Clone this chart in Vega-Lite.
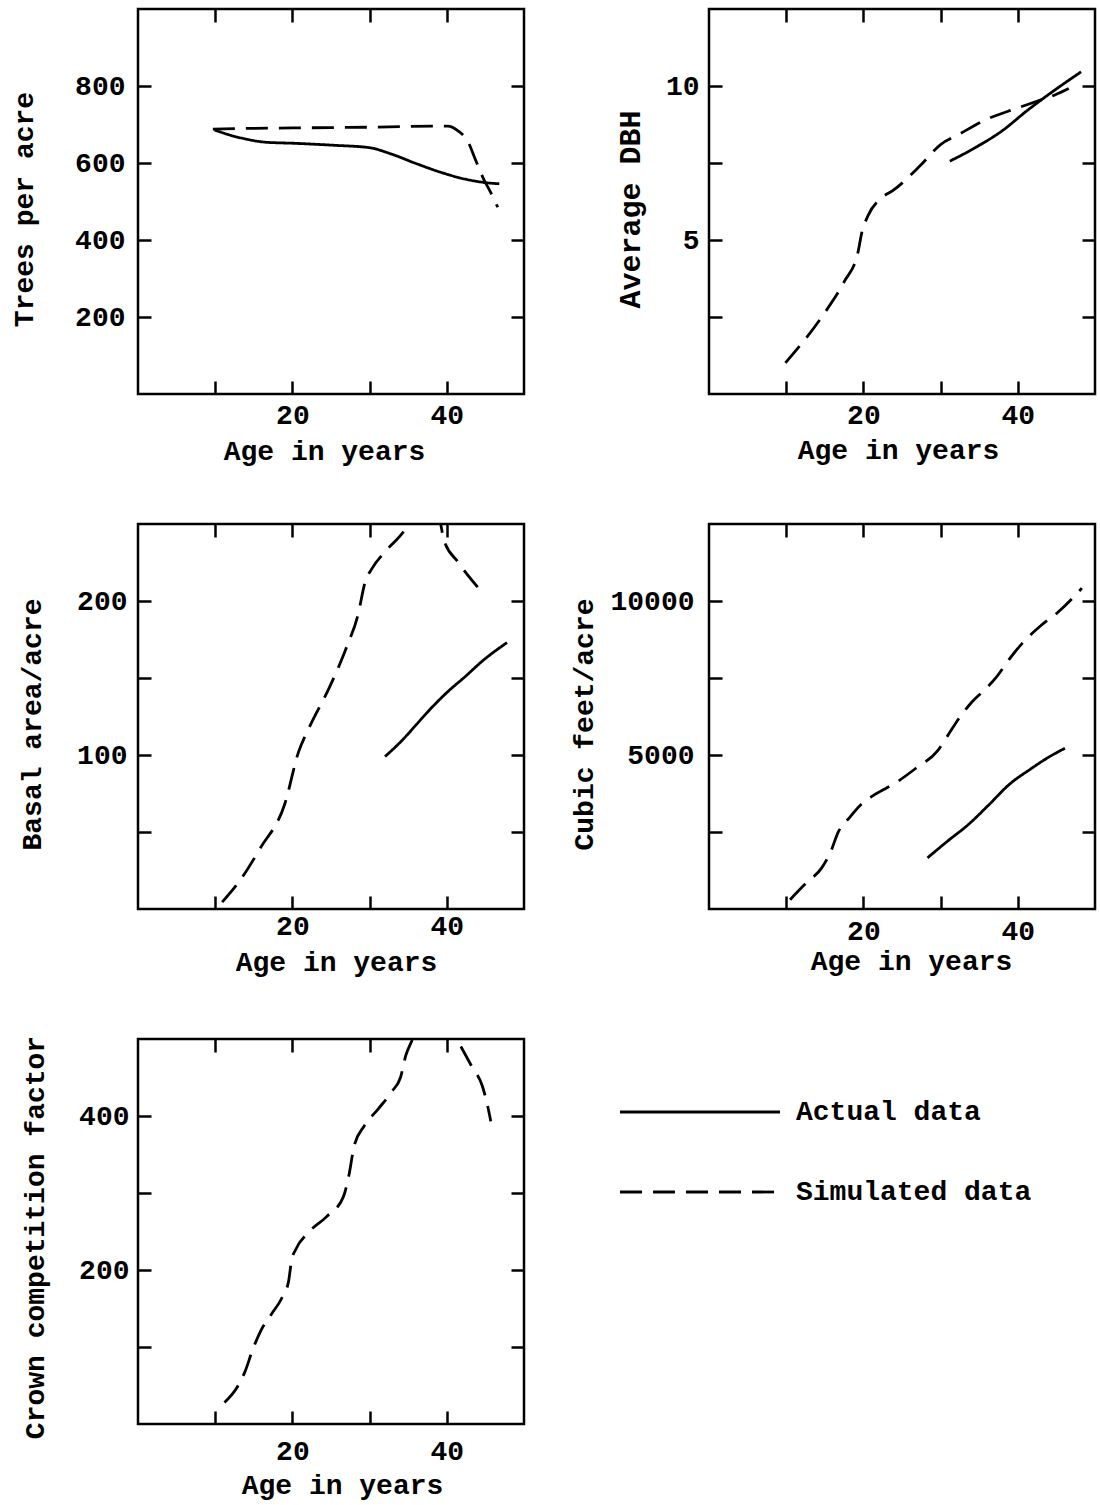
{
  "$schema": "https://vega.github.io/schema/vega-lite/v6.json",
  "background": "white",
  "padding": {"left": 8, "top": 6, "right": 2, "bottom": 5},
  "bounds": "flush",
  "columns": 2,
  "spacing": {"row": 130, "column": 185},
  "datasets": {
    "trees": [
      {"series": "Actual data", "age": 9.9, "value": 686},
      {"series": "Actual data", "age": 12, "value": 672},
      {"series": "Actual data", "age": 13.8, "value": 663},
      {"series": "Actual data", "age": 16.5, "value": 654},
      {"series": "Actual data", "age": 20.5, "value": 651},
      {"series": "Actual data", "age": 25.4, "value": 646},
      {"series": "Actual data", "age": 29.9, "value": 640},
      {"series": "Actual data", "age": 33, "value": 622},
      {"series": "Actual data", "age": 36.1, "value": 598},
      {"series": "Actual data", "age": 39.2, "value": 576},
      {"series": "Actual data", "age": 42.4, "value": 558},
      {"series": "Actual data", "age": 45, "value": 549},
      {"series": "Actual data", "age": 46.8, "value": 546},
      {"series": "Simulated data", "age": 9.7, "value": 688},
      {"series": "Simulated data", "age": 15, "value": 690},
      {"series": "Simulated data", "age": 20, "value": 691},
      {"series": "Simulated data", "age": 25, "value": 692},
      {"series": "Simulated data", "age": 30, "value": 693},
      {"series": "Simulated data", "age": 35, "value": 695},
      {"series": "Simulated data", "age": 40.1, "value": 696},
      {"series": "Simulated data", "age": 41.5, "value": 683},
      {"series": "Simulated data", "age": 42.8, "value": 653},
      {"series": "Simulated data", "age": 43.7, "value": 609},
      {"series": "Simulated data", "age": 44.8, "value": 557},
      {"series": "Simulated data", "age": 45.7, "value": 523},
      {"series": "Simulated data", "age": 46.6, "value": 485}
    ],
    "dbh": [
      {"series": "Actual data", "age": 31.2, "value": 7.56},
      {"series": "Actual data", "age": 34.5, "value": 8.0},
      {"series": "Actual data", "age": 38, "value": 8.55},
      {"series": "Actual data", "age": 41.2, "value": 9.2},
      {"series": "Actual data", "age": 44.8, "value": 9.87},
      {"series": "Actual data", "age": 48.2, "value": 10.46},
      {"series": "Simulated data", "age": 9.9, "value": 1.01},
      {"series": "Simulated data", "age": 14.8, "value": 2.57},
      {"series": "Simulated data", "age": 17.5, "value": 3.64},
      {"series": "Simulated data", "age": 19.3, "value": 4.6},
      {"series": "Simulated data", "age": 19.8, "value": 5.25},
      {"series": "Simulated data", "age": 20.6, "value": 5.79},
      {"series": "Simulated data", "age": 22.4, "value": 6.38},
      {"series": "Simulated data", "age": 23.8, "value": 6.6},
      {"series": "Simulated data", "age": 27.3, "value": 7.4},
      {"series": "Simulated data", "age": 30, "value": 8.1},
      {"series": "Simulated data", "age": 32.3, "value": 8.42},
      {"series": "Simulated data", "age": 35.8, "value": 8.9},
      {"series": "Simulated data", "age": 39.9, "value": 9.28},
      {"series": "Simulated data", "age": 43, "value": 9.55},
      {"series": "Simulated data", "age": 44.8, "value": 9.71},
      {"series": "Simulated data", "age": 46.6, "value": 9.92}
    ],
    "basal": [
      {"series": "Actual data", "age": 32, "value": 99},
      {"series": "Actual data", "age": 34.3, "value": 110},
      {"series": "Actual data", "age": 36.1, "value": 120},
      {"series": "Actual data", "age": 37.9, "value": 130},
      {"series": "Actual data", "age": 40.1, "value": 141},
      {"series": "Actual data", "age": 42.4, "value": 151},
      {"series": "Actual data", "age": 44.6, "value": 161},
      {"series": "Actual data", "age": 47.8, "value": 173},
      {"series": "Simulated data", "age": 10.9, "value": 4.5},
      {"series": "Simulated data", "age": 13.2, "value": 18.5},
      {"series": "Simulated data", "age": 15.9, "value": 40},
      {"series": "Simulated data", "age": 19, "value": 68},
      {"series": "Simulated data", "age": 20.8, "value": 102},
      {"series": "Simulated data", "age": 22.1, "value": 117},
      {"series": "Simulated data", "age": 24.9, "value": 145},
      {"series": "Simulated data", "age": 27.1, "value": 171},
      {"series": "Simulated data", "age": 28.5, "value": 191},
      {"series": "Simulated data", "age": 29.4, "value": 212},
      {"series": "Simulated data", "age": 30.3, "value": 221},
      {"series": "Simulated data", "age": 32, "value": 232},
      {"series": "Simulated data", "age": 33.9, "value": 242},
      {"series": "Simulated data", "age": 35.2, "value": 250},
      {"series": "Simulated data", "age": 36.6, "value": 258},
      {"series": "Simulated data", "age": 38.3, "value": 260},
      {"series": "Simulated data", "age": 39.2, "value": 250},
      {"series": "Simulated data", "age": 39.6, "value": 240},
      {"series": "Simulated data", "age": 41.5, "value": 225},
      {"series": "Simulated data", "age": 44, "value": 209}
    ],
    "cubic": [
      {"series": "Actual data", "age": 28.3, "value": 1660},
      {"series": "Actual data", "age": 30.9, "value": 2203},
      {"series": "Actual data", "age": 33.6, "value": 2744},
      {"series": "Actual data", "age": 36.3, "value": 3395},
      {"series": "Actual data", "age": 38.9, "value": 4046},
      {"series": "Actual data", "age": 41.6, "value": 4535},
      {"series": "Actual data", "age": 43.9, "value": 4915},
      {"series": "Actual data", "age": 46.1, "value": 5218},
      {"series": "Simulated data", "age": 10.5, "value": 303},
      {"series": "Simulated data", "age": 12.6, "value": 846},
      {"series": "Simulated data", "age": 14.6, "value": 1335},
      {"series": "Simulated data", "age": 15.7, "value": 1823},
      {"series": "Simulated data", "age": 16.8, "value": 2529},
      {"series": "Simulated data", "age": 18, "value": 2908},
      {"series": "Simulated data", "age": 19.7, "value": 3395},
      {"series": "Simulated data", "age": 21.5, "value": 3720},
      {"series": "Simulated data", "age": 24.2, "value": 4100},
      {"series": "Simulated data", "age": 26.9, "value": 4590},
      {"series": "Simulated data", "age": 29.6, "value": 5133},
      {"series": "Simulated data", "age": 30.9, "value": 5621},
      {"series": "Simulated data", "age": 32.3, "value": 6162},
      {"series": "Simulated data", "age": 34, "value": 6706},
      {"series": "Simulated data", "age": 35.8, "value": 7139},
      {"series": "Simulated data", "age": 37.2, "value": 7520},
      {"series": "Simulated data", "age": 38.9, "value": 8115},
      {"series": "Simulated data", "age": 40.7, "value": 8659},
      {"series": "Simulated data", "age": 43, "value": 9203},
      {"series": "Simulated data", "age": 45.2, "value": 9635},
      {"series": "Simulated data", "age": 47, "value": 10068},
      {"series": "Simulated data", "age": 48.3, "value": 10417}
    ],
    "ccf": [
      {"series": "Simulated data", "age": 11.2, "value": 28},
      {"series": "Simulated data", "age": 12.8, "value": 47},
      {"series": "Simulated data", "age": 13.9, "value": 69},
      {"series": "Simulated data", "age": 14.8, "value": 95},
      {"series": "Simulated data", "age": 15.9, "value": 121},
      {"series": "Simulated data", "age": 17.3, "value": 143},
      {"series": "Simulated data", "age": 18.6, "value": 163},
      {"series": "Simulated data", "age": 19.5, "value": 185},
      {"series": "Simulated data", "age": 19.9, "value": 213},
      {"series": "Simulated data", "age": 20.4, "value": 226},
      {"series": "Simulated data", "age": 22.2, "value": 250},
      {"series": "Simulated data", "age": 24.4, "value": 269},
      {"series": "Simulated data", "age": 26.6, "value": 295},
      {"series": "Simulated data", "age": 27.3, "value": 322},
      {"series": "Simulated data", "age": 28, "value": 361},
      {"series": "Simulated data", "age": 29.3, "value": 387},
      {"series": "Simulated data", "age": 31.1, "value": 409},
      {"series": "Simulated data", "age": 32.9, "value": 432},
      {"series": "Simulated data", "age": 34, "value": 450},
      {"series": "Simulated data", "age": 34.7, "value": 479},
      {"series": "Simulated data", "age": 35.4, "value": 496},
      {"series": "Simulated data", "age": 36.6, "value": 520},
      {"series": "Simulated data", "age": 38.6, "value": 530},
      {"series": "Simulated data", "age": 40.5, "value": 515},
      {"series": "Simulated data", "age": 41.4, "value": 498},
      {"series": "Simulated data", "age": 43.2, "value": 465},
      {"series": "Simulated data", "age": 44.6, "value": 439},
      {"series": "Simulated data", "age": 45.2, "value": 417},
      {"series": "Simulated data", "age": 45.7, "value": 393}
    ]
  },
  "config": {
    "view": {"stroke": "black", "strokeWidth": 2.5},
    "axis": {
      "domain": false, "grid": false, "ticks": true, "tickSize": -13, "tickWidth": 2.5, "tickColor": "black",
      "labelFont": "Liberation Mono", "labelFontSize": 28, "labelFontWeight": "bold", "labelColor": "black",
      "titleFont": "Liberation Mono", "titleFontSize": 28, "titleFontWeight": "bold", "titleColor": "black",
      "labelFlush": false, "labelOverlap": false
    },
    "line": {"color": "black", "strokeWidth": 2.8, "interpolate": "monotone"}
  },
  "concat": [
    {
      "width": 386, "height": 385,
      "data": {"name": "trees"},
      "layer": [
        {
          "transform": [{"filter": "datum.series === 'Simulated data'"}],
          "mark": {"type": "line", "clip": true},
          "encoding": {
            "x": {"field": "age", "type": "quantitative", "scale": {"domain": [0, 50], "nice": false, "zero": false},
              "axis": {"orient": "bottom", "values": [10, 20, 30, 40], "labelExpr": "datum.value % 20 === 0 ? datum.label : ''", "labelBaseline": "alphabetic", "labelPadding": 42, "title": "Age in years", "titleX": 186, "titleY": 65, "titleBaseline": "alphabetic"}},
            "y": {"field": "value", "type": "quantitative", "scale": {"domain": [0, 1000], "nice": false},
              "axis": {"orient": "left", "values": [200, 400, 600, 800], "labelPadding": 26, "title": "Trees per acre", "titleX": -106, "titleY": 200, "titleBaseline": "alphabetic"}},
            "strokeDash": {"field": "series", "type": "nominal", "scale": {"domain": ["Actual data", "Simulated data"], "range": [[1, 0], [22, 11]]},
              "legend": {"title": null, "orient": "none", "legendX": 548, "legendY": 1089, "direction": "vertical", "symbolType": "M-10,0H10", "symbolSize": 256, "symbolStrokeWidth": 2.8, "symbolStrokeColor": "black", "labelFont": "Liberation Mono", "labelFontSize": 28, "labelFontWeight": "bold", "labelColor": "black", "labelOffset": 82, "rowPadding": 52, "padding": 0, "labelLimit": 400}}
          }
        },
        {
          "transform": [{"filter": "datum.series === 'Actual data'"}],
          "mark": {"type": "line", "clip": true},
          "encoding": {
            "x": {"field": "age", "type": "quantitative", "scale": {"domain": [0, 50], "nice": false, "zero": false},
              "axis": {"orient": "top", "values": [10, 20, 30, 40], "labels": false, "title": null}},
            "y": {"field": "value", "type": "quantitative", "scale": {"domain": [0, 1000], "nice": false},
              "axis": {"orient": "right", "values": [200, 400, 600, 800], "labels": false, "title": null}},
            "strokeDash": {"field": "series", "type": "nominal", "scale": {"domain": ["Actual data", "Simulated data"], "range": [[1, 0], [22, 11]]}}
          }
        }
      ],
      "resolve": {"axis": {"x": "independent", "y": "independent"}}
    },
    {
      "width": 386, "height": 385,
      "data": {"name": "dbh"},
      "layer": [
        {
          "transform": [{"filter": "datum.series === 'Simulated data'"}],
          "mark": {"type": "line", "clip": true},
          "encoding": {
            "x": {"field": "age", "type": "quantitative", "scale": {"domain": [0, 50], "nice": false, "zero": false},
              "axis": {"orient": "bottom", "values": [10, 20, 30, 40], "labelExpr": "datum.value % 20 === 0 ? datum.label : ''", "labelBaseline": "alphabetic", "labelPadding": 42, "title": "Age in years", "titleX": 189, "titleY": 64, "titleBaseline": "alphabetic"}},
            "y": {"field": "value", "type": "quantitative", "scale": {"domain": [0, 12.5], "nice": false},
              "axis": {"orient": "left", "values": [2.5, 5, 7.5, 10], "labelExpr": "datum.value % 5 === 0 ? datum.label : ''", "labelPadding": 23, "title": "Average DBH", "titleFontSize": 30, "titleX": -70, "titleY": 200, "titleBaseline": "alphabetic"}},
            "strokeDash": {"field": "series", "type": "nominal", "scale": {"domain": ["Actual data", "Simulated data"], "range": [[1, 0], [22, 11]]}}
          }
        },
        {
          "transform": [{"filter": "datum.series === 'Actual data'"}],
          "mark": {"type": "line", "clip": true},
          "encoding": {
            "x": {"field": "age", "type": "quantitative", "scale": {"domain": [0, 50], "nice": false, "zero": false},
              "axis": {"orient": "top", "values": [10, 20, 30, 40], "labels": false, "title": null}},
            "y": {"field": "value", "type": "quantitative", "scale": {"domain": [0, 12.5], "nice": false},
              "axis": {"orient": "right", "values": [2.5, 5, 7.5, 10], "labels": false, "title": null}},
            "strokeDash": {"field": "series", "type": "nominal", "scale": {"domain": ["Actual data", "Simulated data"], "range": [[1, 0], [22, 11]]}}
          }
        }
      ],
      "resolve": {"axis": {"x": "independent", "y": "independent"}}
    },
    {
      "width": 386, "height": 385,
      "data": {"name": "basal"},
      "layer": [
        {
          "transform": [{"filter": "datum.series === 'Simulated data'"}],
          "mark": {"type": "line", "clip": true},
          "encoding": {
            "x": {"field": "age", "type": "quantitative", "scale": {"domain": [0, 50], "nice": false, "zero": false},
              "axis": {"orient": "bottom", "values": [10, 20, 30, 40], "labelExpr": "datum.value % 20 === 0 ? datum.label : ''", "labelBaseline": "alphabetic", "labelPadding": 38, "title": "Age in years", "titleX": 198, "titleY": 61, "titleBaseline": "alphabetic"}},
            "y": {"field": "value", "type": "quantitative", "scale": {"domain": [0, 250], "nice": false},
              "axis": {"orient": "left", "values": [50, 100, 150, 200], "labelExpr": "datum.value % 100 === 0 ? datum.label : ''", "labelPadding": 24, "title": "Basal area/acre", "titleX": -98, "titleY": 200, "titleBaseline": "alphabetic"}},
            "strokeDash": {"field": "series", "type": "nominal", "scale": {"domain": ["Actual data", "Simulated data"], "range": [[1, 0], [22, 11]]}}
          }
        },
        {
          "transform": [{"filter": "datum.series === 'Actual data'"}],
          "mark": {"type": "line", "clip": true},
          "encoding": {
            "x": {"field": "age", "type": "quantitative", "scale": {"domain": [0, 50], "nice": false, "zero": false},
              "axis": {"orient": "top", "values": [10, 20, 30, 40], "labels": false, "title": null}},
            "y": {"field": "value", "type": "quantitative", "scale": {"domain": [0, 250], "nice": false},
              "axis": {"orient": "right", "values": [50, 100, 150, 200], "labels": false, "title": null}},
            "strokeDash": {"field": "series", "type": "nominal", "scale": {"domain": ["Actual data", "Simulated data"], "range": [[1, 0], [22, 11]]}}
          }
        }
      ],
      "resolve": {"axis": {"x": "independent", "y": "independent"}}
    },
    {
      "width": 386, "height": 385,
      "data": {"name": "cubic"},
      "layer": [
        {
          "transform": [{"filter": "datum.series === 'Simulated data'"}],
          "mark": {"type": "line", "clip": true},
          "encoding": {
            "x": {"field": "age", "type": "quantitative", "scale": {"domain": [0, 50], "nice": false, "zero": false},
              "axis": {"orient": "bottom", "values": [10, 20, 30, 40], "labelExpr": "datum.value % 20 === 0 ? datum.label : ''", "labelBaseline": "alphabetic", "labelPadding": 43, "title": "Age in years", "titleX": 202, "titleY": 60, "titleBaseline": "alphabetic"}},
            "y": {"field": "value", "type": "quantitative", "scale": {"domain": [0, 12500], "nice": false},
              "axis": {"orient": "left", "values": [2500, 5000, 7500, 10000], "format": "d", "labelExpr": "datum.value % 5000 === 0 ? datum.label : ''", "labelPadding": 28, "title": "Cubic feet/acre", "titleX": -117, "titleY": 200, "titleBaseline": "alphabetic"}},
            "strokeDash": {"field": "series", "type": "nominal", "scale": {"domain": ["Actual data", "Simulated data"], "range": [[1, 0], [22, 11]]}}
          }
        },
        {
          "transform": [{"filter": "datum.series === 'Actual data'"}],
          "mark": {"type": "line", "clip": true},
          "encoding": {
            "x": {"field": "age", "type": "quantitative", "scale": {"domain": [0, 50], "nice": false, "zero": false},
              "axis": {"orient": "top", "values": [10, 20, 30, 40], "labels": false, "title": null}},
            "y": {"field": "value", "type": "quantitative", "scale": {"domain": [0, 12500], "nice": false},
              "axis": {"orient": "right", "values": [2500, 5000, 7500, 10000], "labels": false, "title": null}},
            "strokeDash": {"field": "series", "type": "nominal", "scale": {"domain": ["Actual data", "Simulated data"], "range": [[1, 0], [22, 11]]}}
          }
        }
      ],
      "resolve": {"axis": {"x": "independent", "y": "independent"}}
    },
    {
      "width": 386, "height": 385,
      "data": {"name": "ccf"},
      "layer": [
        {
          "transform": [{"filter": "datum.series === 'Simulated data'"}],
          "mark": {"type": "line", "clip": true},
          "encoding": {
            "x": {"field": "age", "type": "quantitative", "scale": {"domain": [0, 50], "nice": false, "zero": false},
              "axis": {"orient": "bottom", "values": [10, 20, 30, 40], "labelExpr": "datum.value % 20 === 0 ? datum.label : ''", "labelBaseline": "alphabetic", "labelPadding": 48, "title": "Age in years", "titleX": 204, "titleY": 69, "titleBaseline": "alphabetic"}},
            "y": {"field": "value", "type": "quantitative", "scale": {"domain": [0, 500], "nice": false},
              "axis": {"orient": "left", "values": [100, 200, 300, 400], "labelExpr": "datum.value % 200 === 0 ? datum.label : ''", "labelPadding": 22, "title": "Crown competition factor", "titleX": -95, "titleY": 198, "titleBaseline": "alphabetic"}},
            "strokeDash": {"field": "series", "type": "nominal", "scale": {"domain": ["Actual data", "Simulated data"], "range": [[1, 0], [22, 11]]}}
          }
        },
        {
          "transform": [{"filter": "datum.series === 'Actual data'"}],
          "mark": {"type": "line", "clip": true},
          "encoding": {
            "x": {"field": "age", "type": "quantitative", "scale": {"domain": [0, 50], "nice": false, "zero": false},
              "axis": {"orient": "top", "values": [10, 20, 30, 40], "labels": false, "title": null}},
            "y": {"field": "value", "type": "quantitative", "scale": {"domain": [0, 500], "nice": false},
              "axis": {"orient": "right", "values": [100, 200, 300, 400], "labels": false, "title": null}},
            "strokeDash": {"field": "series", "type": "nominal", "scale": {"domain": ["Actual data", "Simulated data"], "range": [[1, 0], [22, 11]]}}
          }
        }
      ],
      "resolve": {"axis": {"x": "independent", "y": "independent"}}
    }
  ]
}
